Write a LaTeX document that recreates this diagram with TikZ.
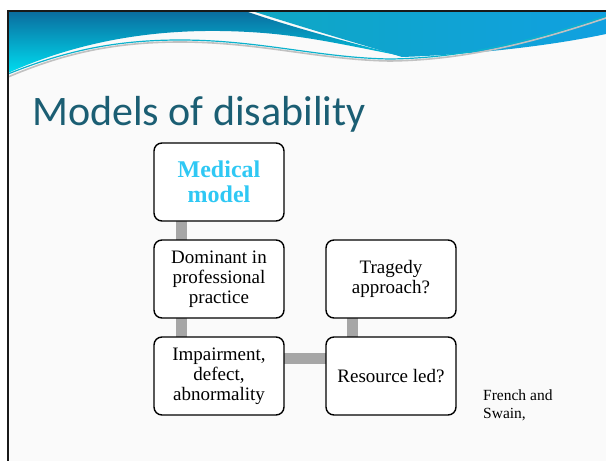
\documentclass[tikz,border=0pt]{standalone}
\usepackage{fontspec}
\setmainfont{Liberation Serif}
\newfontfamily\titlefont{Carlito}
\definecolor{titleblue}{HTML}{1B5E73}
\definecolor{medcyan}{HTML}{2FC8F4}
\definecolor{bargray}{HTML}{A6A6A6}
\definecolor{deepblue}{HTML}{0A6C9E}
\definecolor{brightcyan}{HTML}{00DDF0}
\definecolor{seablue}{HTML}{0FA7C4}
\definecolor{skyblue}{HTML}{10A0E0}
\definecolor{slidebg}{HTML}{FAFAFA}
\tikzset{
  box/.style={draw=black, line width=1.4pt, fill=white, rounded corners=8pt,
    minimum width=130pt, minimum height=78pt, align=center, inner sep=2pt,
    font=\fontsize{19}{20}\selectfont},
  bar/.style={draw=bargray, line width=11pt},
}
\begin{document}
\begin{tikzpicture}[x=1pt,y=1pt,yscale=-1]
\useasboundingbox (0,0) rectangle (606,461);
\fill[white] (0,0) rectangle (606,461);
\fill[slidebg] (8,11) rectangle (606,461);
% header waves
\shade[top color=deepblue, bottom color=brightcyan]
  (8,11) -- (245,11) .. controls (300,30) and (360,45) .. (402,56)
  .. controls (330,42) and (290,32) .. (220,31)
  .. controls (140,30) and (70,45) .. (8,73) -- cycle;
\shade[left color=seablue, right color=skyblue]
  (252,11) -- (606,11) -- (606,34)
  .. controls (540,48) and (460,55) .. (402,57)
  .. controls (360,44) and (305,28) .. (252,11) -- cycle;
\draw[line width=1.6pt, bargray!70]
  (8,77) .. controls (60,55) and (110,42) .. (180,42)
  .. controls (260,42) and (320,60) .. (390,61)
  .. controls (470,60) and (540,40) .. (606,18);
\draw[line width=1.2pt, seablue!80!brightcyan]
  (8,74) .. controls (60,53) and (110,40) .. (180,40)
  .. controls (260,40) and (320,58) .. (390,59)
  .. controls (470,58) and (540,38) .. (606,16);
% border
\draw[line width=2.4pt, black!90] (8.2,461) -- (8.2,11.2) -- (606,11.2);
% title
\node[anchor=base west, inner sep=0pt, text=titleblue,
  font=\titlefont\fontsize{42}{46}\selectfont] (title) at (32,125) {Models of disability};
% bars (behind boxes)
\coordinate (medc) at (219,182);
\coordinate (domc) at (219,279);
\coordinate (impc) at (219,376);
\coordinate (trac) at (391,279);
\coordinate (resc) at (391,376);
\draw[bar] ([xshift=-38pt]medc) -- ([xshift=-38pt]domc);
\draw[bar] ([xshift=-38pt]domc) -- ([xshift=-38pt]impc);
\draw[bar] ([xshift=-39pt]trac) -- ([xshift=-39pt]resc);
\draw[bar] ([yshift=-18pt]impc) -- ([yshift=-18pt]resc);
% boxes
\node[box, font=\bfseries\fontsize{24}{25}\selectfont, text=medcyan] (med) at (medc) {Medical\\model};
\node[box] (dom) at (domc) {Dominant in\\professional\\practice};
\node[box] (imp) at (impc) {Impairment,\\defect,\\abnormality};
\node[box] (tra) at (trac) {Tragedy\\approach?};
\node[box] (res) at (resc) {Resource led?};
\node[anchor=north west, align=left, inner sep=0pt,
  font=\fontsize{15.5}{18}\selectfont] (ref) at (483,390) {French and\\Swain,};
\end{tikzpicture}
\end{document}
